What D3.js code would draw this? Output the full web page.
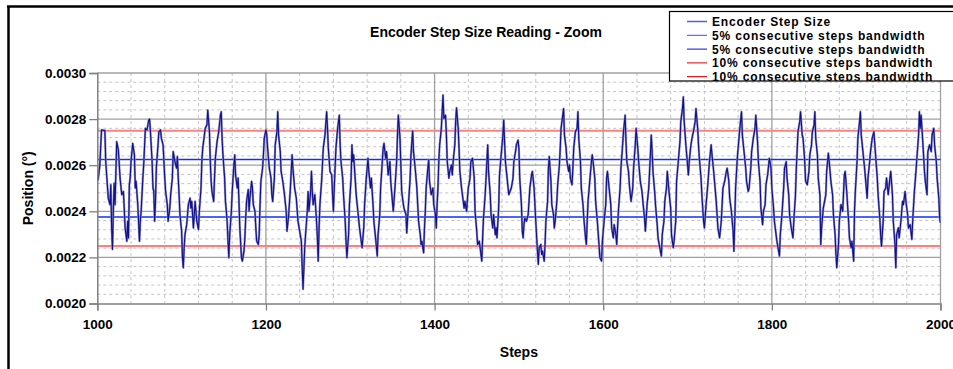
<!DOCTYPE html>
<html><head><meta charset="utf-8">
<script src="https://cdn.jsdelivr.net/npm/d3@7"></script>
<style>html,body{margin:0;padding:0;background:#fff;overflow:hidden}</style>
</head><body>
<script>
const chartTitle = "Encoder Step Size Reading - Zoom";
const xTitle = "Steps";
const yTitle = "Position (°)";
const xTicks = [1000, 1200, 1400, 1600, 1800, 2000];
const yTicks = [0.0020, 0.0022, 0.0024, 0.0026, 0.0028, 0.0030];
const legendLabels = ["Encoder Step Size", "5% consecutive steps bandwidth", "5% consecutive steps bandwidth", "10% consecutive steps bandwidth", "10% consecutive steps bandwidth"];
const band5 = [0.002625, 0.002375];
const band10 = [0.00275, 0.00225];

const steps = [1000,1001,1003,1005,1009,1010,1013,1015,1016,1017,1018,1019,1020,1021,1023,1025,1027,1029,1031,1033,1035,1036,1037,1038,1039,1040,1042,1044,1045,1046,1048,1050,1051,1052,1054,1055,1057,1059,1061,1062,1063,1065,1066,1067,1068,1069,1070,1072,1073,1075,1076,1078,1080,1081,1083,1084,1086,1087,1089,1090,1092,1094,1095,1096,1097,1098,1100,1101,1102,1103,1104,1106,1108,1110,1111,1112,1114,
1116,1118,1120,1121,1123,1124,1125,1127,1128,1130,1131,1133,1134,1135,1136,1138,1139,1140,1142,1144,1146,1147,1148,1149,1151,1152,1154,1155,1156,1157,1159,1160,1162,1163,1164,1166,1167,1168,1169,1171,1172,1174,1175,1176,1177,1179,1180,1181,1183,1184,1185,1187,1188,1189,1191,1192,1193,1194,1196,1197,1198,1200,1201,1202,1204,1206,1207,1208,1210,1211,1213,1214,1215,1217,1218,1220,1222,1224,1225,1227,1229,1231,1232,1234,1236,1238,
1240,1242,1243,1244,1246,1247,1249,1250,1251,1253,1254,1255,1256,1258,1260,1261,1262,1263,1264,1266,1267,1268,1270,1272,1273,1274,1276,1278,1279,1280,1281,1282,1283,1285,1287,1288,1289,1291,1292,1294,1295,1296,1298,1299,1301,1302,1303,1304,1306,1307,1309,1311,1313,1314,1316,1317,1319,1321,1322,1324,1325,1327,1328,1330,1332,1333,1335,1336,1338,1339,1340,1342,1343,1345,1347,1348,1350,1351,1353,1355,1356,1357,1359,1360,1361,1363,
1364,1366,1367,1369,1371,1372,1374,1375,1377,1379,1380,1381,1383,1384,1385,1387,1388,1389,1390,1392,1393,1394,1396,1398,1399,1401,1402,1403,1404,1405,1406,1408,1409,1410,1411,1413,1414,1415,1417,1418,1420,1421,1422,1424,1425,1426,1428,1429,1430,1432,1433,1435,1436,1438,1439,1440,1442,1443,1445,1447,1448,1450,1451,1453,1454,1456,1457,1458,1460,1462,1463,1464,1466,1467,1469,1470,1472,1473,1474,1476,1477,1479,1481,1482,1483,1484,1486,1488,
1491,1493,1494,1496,1497,1499,1500,1501,1503,1504,1505,1506,1507,1509,1511,1513,1515,1516,1518,1519,1520,1522,1523,1524,1526,1527,1528,1530,1531,1532,1534,1535,1536,1538,1539,1541,1542,1543,1545,1546,1548,1549,1550,1552,1553,1554,1556,1557,1559,1560,1561,1563,1564,1565,1567,1569,1570,1571,1573,1574,1576,1577,1579,1580,1581,1582,1584,1586,1587,1588,1590,1591,1593,1595,1596,1598,1599,1601,1603,1604,1605,1607,1609,1610,1612,
1613,1615,1616,1618,1620,1621,1623,1624,1626,1627,1628,1630,1631,1633,1635,1636,1638,1639,1641,1642,1644,1646,1647,1649,1650,1652,1654,1655,1657,1658,1659,1661,1662,1664,1665,1667,1669,1670,1672,1673,1675,1676,1678,1680,1681,1683,1684,1686,1687,1689,1691,1692,1694,1695,1696,1698,1699,1701,1702,1704,1706,1707,1709,1710,1712,1713,1714,1716,1717,1719,1720,1722,1724,1726,1728,1729,1731,1732,1734,1736,
1738,1740,1741,1742,1744,1746,1747,1749,1750,1752,1754,1755,1756,1757,1759,1761,1762,1764,1765,1767,1769,1770,1772,1773,1775,1776,1778,1780,1781,1783,1784,1786,1787,1789,1790,1792,1793,1795,1797,1799,1800,1802,1803,1805,1806,1808,1809,1810,1812,1814,1815,1817,1818,1820,1821,1823,1825,1826,1828,1829,1831,1833,1834,1836,1837,1839,1840,1842,1844,1845,1847,1848,1850,1851,1852,1854,1855,1857,1858,1859,1861,
1864,1865,1867,1868,1870,1872,1873,1875,1876,1877,1879,1880,1882,1884,1886,1887,1889,1891,1892,1894,1895,1897,1898,1899,1901,1902,1904,1905,1906,1908,1910,1911,1913,1914,1916,1917,1919,1921,1923,1925,1926,1928,1929,1930,1932,1933,1935,1936,1938,1940,1941,1943,1944,1946,1947,1948,1950,1951,1953,1955,1956,1958,1959,1961,1962,1964,1966,1967,1969,1970,1972,1974,1975,1976,1977,1979,1981,1982,1984,1985,1987,1989,1990,1992,1993,1995,1996,1998,1999,2000];

const positions = [0.002550,0.002537,0.002601,0.002753,0.002750,0.002616,0.002457,0.002429,0.002515,0.002328,0.002235,0.002400,0.002522,0.002429,0.002702,0.002666,0.002544,0.002472,0.002486,0.002328,0.002270,0.002357,0.002285,0.002515,0.002544,0.002616,0.002695,0.002645,0.002501,0.002530,0.002429,0.002270,0.002357,0.002400,0.002544,0.002601,0.002760,0.002753,0.002796,0.002800,0.002745,0.002616,0.002501,0.002486,0.002357,0.002443,0.002587,0.002688,0.002745,0.002753,0.002717,0.002688,0.002544,0.002486,0.002429,0.002357,0.002414,0.002472,0.002544,0.002659,0.002616,0.002587,0.002637,0.002544,0.002472,0.002386,0.002314,0.002199,0.002155,0.002242,0.002299,0.002342,0.002429,0.002457,0.002414,0.002443,0.002328,
0.002443,0.002357,0.002321,0.002400,0.002501,0.002616,0.002673,0.002731,0.002760,0.002774,0.002839,0.002745,0.002616,0.002530,0.002486,0.002443,0.002544,0.002630,0.002702,0.002745,0.002817,0.002832,0.002717,0.002645,0.002544,0.002443,0.002357,0.002270,0.002199,0.002299,0.002400,0.002486,0.002601,0.002645,0.002558,0.002501,0.002544,0.002443,0.002328,0.002199,0.002184,0.002227,0.002285,0.002371,0.002443,0.002494,0.002400,0.002457,0.002530,0.002501,0.002429,0.002400,0.002328,0.002270,0.002256,0.002299,0.002429,0.002530,0.002587,0.002645,0.002717,0.002753,0.002731,0.002673,0.002587,0.002544,0.002472,0.002443,0.002544,0.002688,0.002745,0.002832,0.002731,0.002659,0.002573,0.002530,0.002472,0.002400,0.002314,0.002386,0.002501,0.002645,0.002587,0.002501,0.002457,0.002357,
0.002314,0.002270,0.002155,0.002062,0.002242,0.002299,0.002400,0.002486,0.002400,0.002486,0.002573,0.002486,0.002429,0.002472,0.002357,0.002285,0.002184,0.002328,0.002429,0.002530,0.002601,0.002673,0.002731,0.002832,0.002760,0.002673,0.002573,0.002558,0.002472,0.002400,0.002501,0.002587,0.002673,0.002760,0.002817,0.002688,0.002616,0.002544,0.002472,0.002357,0.002270,0.002199,0.002299,0.002429,0.002544,0.002688,0.002616,0.002645,0.002530,0.002472,0.002400,0.002328,0.002270,0.002242,0.002328,0.002429,0.002544,0.002630,0.002573,0.002501,0.002544,0.002429,0.002357,0.002285,0.002206,0.002299,0.002386,0.002501,0.002616,0.002673,0.002695,0.002630,0.002659,0.002558,0.002616,0.002530,0.002443,0.002400,0.002501,0.002616,0.002731,0.002817,0.002717,0.002601,0.002486,0.002429,
0.002410,0.002386,0.002306,0.002429,0.002544,0.002645,0.002748,0.002659,0.002587,0.002501,0.002429,0.002357,0.002299,0.002256,0.002270,0.002220,0.002328,0.002400,0.002501,0.002587,0.002623,0.002530,0.002472,0.002501,0.002429,0.002386,0.002328,0.002429,0.002501,0.002616,0.002688,0.002760,0.002832,0.002904,0.002803,0.002817,0.002731,0.002616,0.002544,0.002573,0.002601,0.002558,0.002616,0.002688,0.002789,0.002849,0.002760,0.002673,0.002573,0.002501,0.002472,0.002414,0.002443,0.002400,0.002457,0.002501,0.002544,0.002616,0.002630,0.002544,0.002400,0.002314,0.002256,0.002270,0.002242,0.002184,0.002285,0.002371,0.002472,0.002616,0.002688,0.002573,0.002472,0.002386,0.002328,0.002386,0.002299,0.002328,0.002285,0.002414,0.002558,0.002645,0.002731,0.002796,0.002702,0.002616,0.002544,0.002472,
0.002501,0.002544,0.002616,0.002659,0.002688,0.002709,0.002673,0.002544,0.002429,0.002314,0.002285,0.002342,0.002371,0.002357,0.002386,0.002501,0.002558,0.002573,0.002501,0.002429,0.002357,0.002227,0.002170,0.002242,0.002256,0.002213,0.002227,0.002184,0.002256,0.002357,0.002443,0.002587,0.002637,0.002530,0.002429,0.002386,0.002328,0.002357,0.002443,0.002515,0.002601,0.002673,0.002760,0.002817,0.002846,0.002731,0.002673,0.002616,0.002573,0.002601,0.002544,0.002515,0.002587,0.002673,0.002745,0.002760,0.002832,0.002717,0.002616,0.002501,0.002429,0.002371,0.002285,0.002256,0.002357,0.002443,0.002530,0.002616,0.002645,0.002616,0.002544,0.002443,0.002357,0.002256,0.002199,0.002184,0.002270,0.002357,0.002429,0.002544,0.002573,0.002501,0.002429,0.002328,0.002285,
0.002342,0.002299,0.002256,0.002400,0.002501,0.002587,0.002688,0.002745,0.002817,0.002702,0.002616,0.002573,0.002515,0.002443,0.002501,0.002587,0.002688,0.002760,0.002673,0.002616,0.002530,0.002486,0.002443,0.002371,0.002314,0.002429,0.002501,0.002573,0.002731,0.002659,0.002573,0.002486,0.002429,0.002342,0.002285,0.002242,0.002206,0.002299,0.002357,0.002443,0.002501,0.002573,0.002486,0.002414,0.002299,0.002242,0.002270,0.002357,0.002530,0.002616,0.002702,0.002789,0.002846,0.002896,0.002789,0.002688,0.002645,0.002558,0.002616,0.002688,0.002731,0.002745,0.002789,0.002846,0.002760,0.002688,0.002630,0.002544,0.002472,0.002357,0.002328,0.002429,0.002515,0.002616,0.002688,0.002645,0.002573,0.002530,0.002443,0.002328,
0.002285,0.002357,0.002429,0.002501,0.002530,0.002573,0.002587,0.002530,0.002457,0.002400,0.002314,0.002227,0.002357,0.002501,0.002630,0.002717,0.002760,0.002832,0.002731,0.002659,0.002587,0.002530,0.002486,0.002501,0.002587,0.002659,0.002717,0.002760,0.002817,0.002702,0.002616,0.002530,0.002414,0.002342,0.002400,0.002429,0.002515,0.002558,0.002630,0.002587,0.002501,0.002414,0.002357,0.002299,0.002270,0.002227,0.002206,0.002299,0.002386,0.002501,0.002587,0.002616,0.002544,0.002472,0.002386,0.002328,0.002285,0.002357,0.002472,0.002587,0.002745,0.002789,0.002832,0.002731,0.002717,0.002616,0.002530,0.002515,0.002573,0.002645,0.002688,0.002745,0.002774,0.002832,0.002717,0.002645,0.002544,0.002472,0.002256,0.002328,0.002414,
0.002472,0.002573,0.002652,0.002616,0.002530,0.002472,0.002386,0.002299,0.002213,0.002155,0.002256,0.002357,0.002429,0.002400,0.002558,0.002573,0.002472,0.002357,0.002285,0.002242,0.002270,0.002184,0.002400,0.002486,0.002616,0.002717,0.002789,0.002832,0.002731,0.002659,0.002587,0.002544,0.002457,0.002544,0.002616,0.002659,0.002717,0.002745,0.002645,0.002544,0.002472,0.002371,0.002299,0.002249,0.002357,0.002486,0.002501,0.002544,0.002472,0.002544,0.002573,0.002472,0.002357,0.002256,0.002155,0.002299,0.002328,0.002285,0.002357,0.002443,0.002429,0.002486,0.002443,0.002386,0.002328,0.002342,0.002278,0.002357,0.002486,0.002530,0.002630,0.002731,0.002832,0.002760,0.002817,0.002702,0.002573,0.002530,0.002472,0.002659,0.002688,0.002659,0.002731,0.002760,0.002688,0.002616,0.002544,0.002457,0.002371,0.002350];

const W = 953, H = 369;
const svg = d3.select("body").append("svg").attr("width", W).attr("height", H)
  .style("font-family", "'Liberation Sans', Arial, sans-serif");
svg.append("rect").attr("width", W).attr("height", H).attr("fill", "#fff");

const x = d3.scaleLinear().domain([1000, 2000]).range([97.3, 940.5]);
const y = d3.scaleLinear().domain([0.0020, 0.0030]).range([303.5, 73]);

// chart frame
svg.append("line").attr("x1", 8.5).attr("x2", 8.5).attr("y1", 6).attr("y2", H + 5).attr("stroke", "#000").attr("stroke-width", 2.5);
svg.append("line").attr("x1", 7).attr("x2", W + 5).attr("y1", 6.5).attr("y2", 6.5).attr("stroke", "#000").attr("stroke-width", 2.5);

// title
svg.append("text").attr("x", 486).attr("y", 36.5).attr("text-anchor", "middle")
  .attr("font-size", 14).attr("font-weight", "bold").text(chartTitle);

// grid
const grid = svg.append("g");
const minorX = d3.range(1000, 2001, 40).filter(v => v % 200 !== 0);
const minorY = d3.range(1, 25).filter(i => i % 5 !== 0).map(i => 0.0020 + i * 0.00004);
grid.selectAll(".mx").data(minorX).join("line")
  .attr("x1", d => x(d)).attr("x2", d => x(d)).attr("y1", y(0.0030)).attr("y2", y(0.0020))
  .attr("stroke", "#c4c4c4").attr("stroke-width", 1).attr("stroke-dasharray", "3,3");
grid.selectAll(".my").data(minorY).join("line")
  .attr("x1", x(1000)).attr("x2", x(2000)).attr("y1", d => y(d)).attr("y2", d => y(d))
  .attr("stroke", "#c4c4c4").attr("stroke-width", 1).attr("stroke-dasharray", "3,3");
grid.selectAll(".Mx").data(xTicks.slice(1)).join("line")
  .attr("x1", d => x(d)).attr("x2", d => x(d)).attr("y1", y(0.0030)).attr("y2", y(0.0020))
  .attr("stroke", "#a0a0a0").attr("stroke-width", 1.3);
grid.selectAll(".My").data(yTicks.slice(1)).join("line")
  .attr("x1", x(1000)).attr("x2", x(2000)).attr("y1", d => y(d)).attr("y2", d => y(d))
  .attr("stroke", "#a0a0a0").attr("stroke-width", 1.3);

// band lines
const bands = svg.append("g");
bands.selectAll(".b10").data(band10).join("line")
  .attr("x1", x(1000)).attr("x2", x(2000)).attr("y1", d => y(d)).attr("y2", d => y(d))
  .attr("stroke", "#ff7f7f").attr("stroke-width", 2);
bands.selectAll(".b5").data(band5).join("line")
  .attr("x1", x(1000)).attr("x2", x(2000)).attr("y1", d => y(d)).attr("y2", d => y(d))
  .attr("stroke", "#1030ff").attr("stroke-width", 1.6);

// data
svg.append("clipPath").attr("id", "plotclip").append("rect")
  .attr("x", x(1000)).attr("y", y(0.0030) - 2).attr("width", x(2000) - x(1000)).attr("height", y(0.0020) - y(0.0030) + 2);
const line = d3.line().x((d, i) => x(steps[i])).y(d => y(d));
svg.append("path").datum(positions).attr("d", line).attr("clip-path", "url(#plotclip)")
  .attr("fill", "none").attr("stroke", "#8a8ac8").attr("stroke-width", 2.2).attr("stroke-linejoin", "round");
svg.append("path").datum(positions).attr("d", line).attr("clip-path", "url(#plotclip)")
  .attr("fill", "none").attr("stroke", "#10108a").attr("stroke-width", 1.1).attr("stroke-linejoin", "round");

// axes
const yAxis = svg.append("g").attr("transform", `translate(${x(1000)},0)`)
  .call(d3.axisLeft(y).tickValues(yTicks).tickFormat(d3.format(".4f")).tickSize(8).tickPadding(3));
const xAxis = svg.append("g").attr("transform", `translate(0,${y(0.0020)})`)
  .call(d3.axisBottom(x).tickValues(xTicks).tickFormat(d3.format("d")).tickSize(7).tickPadding(9));
[xAxis, yAxis].forEach(a => {
  a.select(".domain").attr("stroke", "#808080").attr("stroke-width", 1.5);
  a.selectAll(".tick line").attr("stroke", "#808080").attr("stroke-width", 1.3);
  a.selectAll(".tick text").attr("font-size", 13.5).attr("font-weight", "bold").attr("fill", "#000")
    .attr("font-family", "'Liberation Sans', Arial, sans-serif");
});

svg.append("text").attr("x", (x(1000) + x(2000)) / 2).attr("y", 357).attr("text-anchor", "middle")
  .attr("font-size", 14).attr("font-weight", "bold").text(xTitle);
svg.append("text").attr("transform", `translate(33,${(y(0.0020) + y(0.0030)) / 2}) rotate(-90)`)
  .attr("text-anchor", "middle").attr("font-size", 14).attr("font-weight", "bold").text(yTitle);

// legend
const legendColors = ["#5a5ad8", "#6b6bf4", "#3a3af0", "#e83030", "#d82020"];
svg.append("clipPath").attr("id", "legclip").append("rect").attr("x", 669).attr("y", 11.5).attr("width", 300).attr("height", 69.5);
const leg = svg.append("g");
leg.append("rect").attr("x", 669.5).attr("y", 11.5).attr("width", 300).attr("height", 69.5)
  .attr("fill", "#fff").attr("stroke", "#000").attr("stroke-width", 1.2);
const items = leg.append("g").attr("clip-path", "url(#legclip)").selectAll("g").data(legendLabels).join("g")
  .attr("transform", (d, i) => `translate(0,${21.5 + i * 13.8})`);
items.append("line").attr("x1", 687).attr("x2", 707).attr("y1", 0).attr("y2", 0)
  .attr("stroke", (d, i) => legendColors[i]).attr("stroke-width", 1.3);
items.append("text").attr("x", 712).attr("y", 4.5).attr("font-size", 12).attr("font-weight", "bold")
  .attr("letter-spacing", 0.85).text(d => d);
</script>
</body></html>
